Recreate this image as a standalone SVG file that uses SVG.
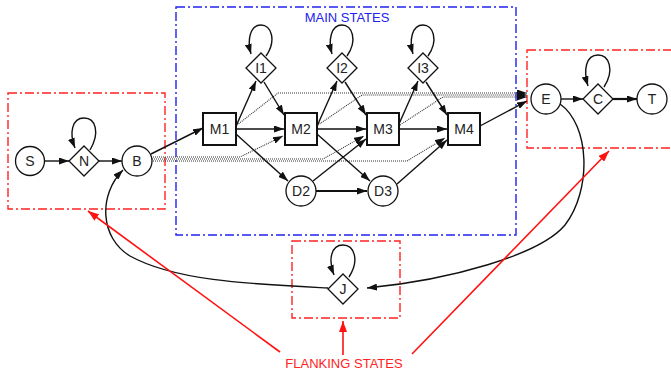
<svg xmlns="http://www.w3.org/2000/svg" width="671" height="377" viewBox="0 0 671 377">
  <style>
    .lbl { font-family: "Liberation Sans", Arial, sans-serif; font-size: 14px; fill: #222; text-anchor: middle; }
    .node { fill: #fff; stroke: #111; stroke-width: 1.3; }
    .match { fill: #fff; stroke: #111; stroke-width: 2; }
    .edge { fill: none; stroke: #111; stroke-width: 1.4; marker-end: url(#arr); }
    .thick { stroke-width: 2.2; }
    .dot { fill: none; stroke: #333; stroke-width: 1.1; stroke-dasharray: 1 1; marker-end: url(#arr); }
    .grp-red { fill: none; stroke: #ff2222; stroke-width: 1.4; stroke-dasharray: 9 3 2 3; }
    .grp-blue { fill: none; stroke: #2222ee; stroke-width: 1.4; stroke-dasharray: 9 3 2 3; }
    .note { fill: none; stroke: #ff1111; stroke-width: 1.6; marker-end: url(#redarr); }
    .cap-red { font-family: "Liberation Sans", Arial, sans-serif; font-size: 13px; fill: #ff2222; text-anchor: middle; }
    .cap-blue { font-family: "Liberation Sans", Arial, sans-serif; font-size: 13px; fill: #2222ee; text-anchor: middle; }
  </style>
  <defs>
    <marker id="arr" markerUnits="userSpaceOnUse" markerWidth="10" markerHeight="7" refX="10" refY="3.5" orient="auto">
      <path d="M0,0 L10,3.5 L0,7 z" fill="#111"/>
    </marker>
    <marker id="redarr" markerUnits="userSpaceOnUse" markerWidth="11" markerHeight="8" refX="11" refY="4" orient="auto">
      <path d="M0,0 L11,4 L0,8 z" fill="#ff1111"/>
    </marker>
  </defs>

  <!-- state groupings -->
  <g id="groups">
    <rect class="grp-red" x="8" y="93" width="157" height="116"/>
    <rect class="grp-blue" x="176" y="7" width="340" height="228"/>
    <rect class="grp-red" x="527" y="50" width="150" height="98"/>
    <rect class="grp-red" x="292" y="241" width="108" height="77"/>
    <text class="cap-blue" x="347" y="22">MAIN STATES</text>
  </g>

  <!-- transitions -->
  <g id="connectors">
    <!-- local entry from B (dotted) -->
    <path class="dot" d="M151,157 L240,157 L283,136"/>
    <path class="dot" d="M152,159 L323,159 L364,136"/>
    <path class="dot" d="M151,161 L407,161 L445,138"/>
    <!-- local exit to E (dotted) -->
    <path class="dot" d="M237,125 L278,93 L527,93"/>
    <path class="dot" d="M318,125 L362,95 L527,95"/>
    <path class="dot" d="M400,125 L443,97 L527,97"/>

    <!-- flanking -->
    <path class="edge" d="M45,161 L69,161"/>
    <path class="edge" d="M99,161 L122,161"/>
    <path class="edge" d="M151,154 L203,128"/>
    <path class="edge" d="M90,150 C100,133 96,118 84,118 C72,118 69,133 75,148"/>

    <!-- main model -->
    <path class="edge" d="M237,124 L256,81"/>
    <path class="edge" d="M264,82 L284,115"/>
    <path class="edge" d="M236,129 L284,129"/>
    <path class="edge" d="M236,134 L288,181"/>
    <path class="edge" d="M318,124 L337,81"/>
    <path class="edge" d="M345,82 L366,115"/>
    <path class="edge" d="M317,129 L366,129"/>
    <path class="edge" d="M317,134 L370,181"/>
    <path class="edge" d="M313,181 L366,139"/>
    <path class="edge thick" d="M316,191 L367,191"/>
    <path class="edge" d="M399,124 L418,81"/>
    <path class="edge" d="M426,82 L447,115"/>
    <path class="edge" d="M399,129 L447,129"/>
    <path class="edge" d="M397,184 L447,140"/>
    <path class="edge" d="M480,126 L527,101"/>

    <!-- insert self loops -->
    <path class="edge" d="M266,56 C277,40 271,25 261,25 C250,25 247,40 251,54"/>
    <path class="edge" d="M347,56 C358,40 352,25 342,25 C331,25 328,40 332,54"/>
    <path class="edge" d="M428,56 C439,40 433,25 423,25 C412,25 409,40 413,54"/>

    <!-- C-terminal -->
    <path class="edge" d="M561,99 L583,99"/>
    <path class="edge thick" d="M613,99 L637,99"/>
    <path class="edge" d="M604,87 C615,70 609,55 598,55 C586,55 583,70 588,86"/>

    <!-- J loop and its links -->
    <path class="edge" d="M349,277 C360,260 354,245 343,245 C331,245 328,260 334,275"/>
    <path class="edge" d="M560,104 C590,125 592,190 565,225 C540,255 450,280 367,288"/>
    <path class="edge" d="M328,288 C250,284 175,281 130,256 C100,238 98,195 123,170"/>

    <!-- annotations -->
    <path class="note" d="M280,352 L88,211"/>
    <path class="note" d="M412,354 L609,151"/>
    <path class="note" d="M343,355 L343,321"/>
  </g>

  <g id="S"><circle class="node" cx="30" cy="161" r="14.5"/><text class="lbl" x="30" y="166">S</text></g>
  <g id="N"><path class="node" d="M84,146 L99,161 L84,176 L69,161 z"/><text class="lbl" x="84" y="166">N</text></g>
  <g id="B"><circle class="node" cx="137" cy="161" r="15"/><text class="lbl" x="137" y="166">B</text></g>

  <g id="M1"><rect class="match" x="203" y="113" width="33" height="32"/><text class="lbl" x="219.5" y="134">M1</text></g>
  <g id="M2"><rect class="match" x="285" y="113" width="32" height="32"/><text class="lbl" x="301" y="134">M2</text></g>
  <g id="M3"><rect class="match" x="367" y="113" width="32" height="32"/><text class="lbl" x="383" y="134">M3</text></g>
  <g id="M4"><rect class="match" x="448" y="113" width="32" height="32"/><text class="lbl" x="464" y="134">M4</text></g>

  <g id="I1"><path class="node" d="M261,53 L276,68 L261,83 L246,68 z"/><text class="lbl" x="261" y="73">I1</text></g>
  <g id="I2"><path class="node" d="M342,53 L357,68 L342,83 L327,68 z"/><text class="lbl" x="342" y="73">I2</text></g>
  <g id="I3"><path class="node" d="M423,53 L438,68 L423,83 L408,68 z"/><text class="lbl" x="423" y="73">I3</text></g>

  <g id="D2"><circle class="node" cx="301" cy="191" r="15"/><text class="lbl" x="301" y="196">D2</text></g>
  <g id="D3"><circle class="node" cx="383" cy="191" r="15"/><text class="lbl" x="383" y="196">D3</text></g>

  <g id="E"><circle class="node" cx="546" cy="99" r="15"/><text class="lbl" x="546" y="104">E</text></g>
  <g id="C"><path class="node" d="M598,84 L613,99 L598,114 L583,99 z"/><text class="lbl" x="598" y="104">C</text></g>
  <g id="T"><circle class="node" cx="652" cy="99" r="15"/><text class="lbl" x="652" y="104">T</text></g>
  <g id="J"><path class="node" d="M343,274 L358,289 L343,304 L328,289 z"/><text class="lbl" x="343" y="294">J</text></g>

  <text class="cap-red" x="344" y="368">FLANKING STATES</text>
</svg>
